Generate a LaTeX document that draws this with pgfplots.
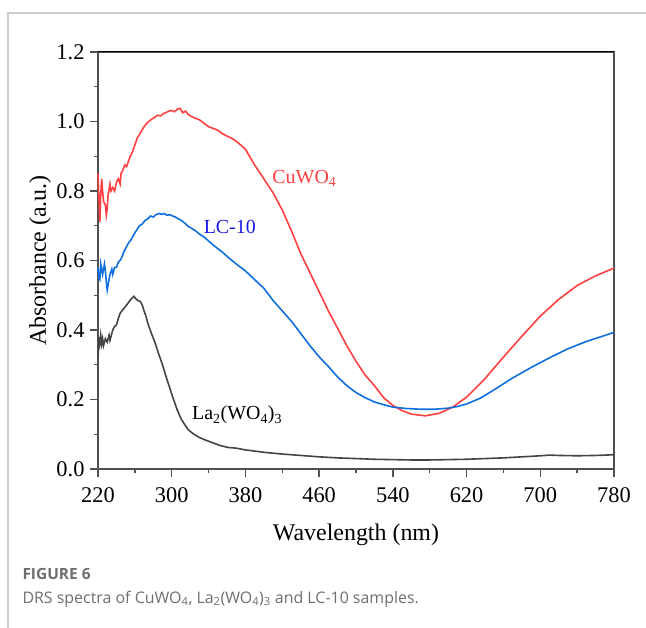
\documentclass[border=0pt]{standalone}
\usepackage{pgfplots}
\pgfplotsset{compat=1.18}
\usepackage{fontspec}
\setmainfont{Liberation Serif}
\newfontfamily\capfont{Open Sans}

\definecolor{cured}{RGB}{255,64,64}
\definecolor{lcblue}{RGB}{15,111,222}
\definecolor{lctext}{RGB}{25,25,230}
\definecolor{lagray}{RGB}{68,68,68}
\definecolor{axisgray}{RGB}{80,80,80}
\definecolor{framegray}{RGB}{205,205,205}
\definecolor{capgray}{RGB}{110,110,110}

\begin{document}
\begin{tikzpicture}
\path[use as bounding box] (0,0) rectangle (646bp,628bp);
\draw[framegray, line width=1.5bp] (8bp,0) -- (8bp,615bp) -- (646bp,615bp);

\begin{axis}[
  at={(98bp,159bp)}, anchor=south west,
  scale only axis, width=516bp, height=417bp,
  xmin=220, xmax=780, ymin=0, ymax=1.2,
  xtick={220,300,380,460,540,620,700,780},
  ytick={0,0.2,0.4,0.6,0.8,1.0,1.2},
  minor x tick num=1, minor y tick num=1,
  tick align=outside, major tick length=8bp, minor tick length=4.5bp,
  xtick pos=lower, ytick pos=left,
  xticklabel style={yshift=-7bp},
  yticklabel style={xshift=-2bp, /pgf/number format/.cd, fixed, fixed zerofill, precision=1},
  /pgf/number format/assume math mode=true,
  tick label style={font=\fontsize{22.5}{27}\selectfont},
  label style={font=\fontsize{24}{28}\selectfont},
  xlabel={Wavelength (nm)}, ylabel={Absorbance (a.u.)},
  xlabel style={at={(axis description cs:0.5,-0.158)}, anchor=center},
  ylabel style={at={(axis description cs:-0.1124,0.5)}, anchor=center},
  axis line style={line width=1.5bp, draw=axisgray},
  tick style={line width=1.3bp, draw=axisgray, color=axisgray},
  clip=false,
]
% CuWO4
\addplot[cured, line width=1.6bp] coordinates {
(220,0.85) (221,0.78) (222,0.71) (223,0.79) (224,0.835) (225,0.80) (226,0.77)
(228,0.76) (229,0.73) (230,0.75) (231,0.79) (233,0.82) (234,0.80) (236,0.81)
(238,0.80) (240,0.825) (242,0.835) (244,0.82) (245,0.85) (247,0.86) (249,0.875)
(251,0.87) (253,0.885) (255,0.9) (257,0.91) (259,0.925) (261,0.94) (263,0.955)
(265,0.962) (267,0.972) (270,0.985) (273,0.995) (276,1.002) (279,1.008) (282,1.013)
(285,1.018) (288,1.016) (291,1.023) (294,1.026) (297,1.03) (300,1.032) (303,1.028)
(306,1.035) (309,1.038) (312,1.025) (315,1.03) (318,1.02) (321,1.015) (325,1.01)
(330,1.005) (335,0.995) (340,0.985) (345,0.98) (350,0.975) (355,0.965) (360,0.958)
(365,0.952) (370,0.943) (375,0.932) (380,0.92) (390,0.875) (400,0.835) (410,0.795)
(420,0.745) (430,0.685) (440,0.62) (450,0.565) (460,0.51) (470,0.455) (480,0.405)
(490,0.355) (500,0.31) (510,0.27) (520,0.24) (530,0.205) (540,0.183) (550,0.168)
(560,0.158) (575,0.153) (590,0.16) (605,0.178) (620,0.207) (640,0.26) (660,0.322)
(680,0.382) (700,0.44) (720,0.488) (740,0.528) (760,0.556) (780,0.578)
};
% LC-10
\addplot[lcblue, line width=1.6bp] coordinates {
(220,0.58) (221,0.55) (222,0.545) (223,0.59) (224,0.575) (225,0.56) (227,0.59)
(228,0.57) (229,0.54) (230,0.515) (231,0.53) (233,0.56) (235,0.575) (236,0.56)
(238,0.58) (240,0.58) (242,0.595) (244,0.60) (246,0.61) (248,0.625) (250,0.635)
(253,0.65) (256,0.66) (259,0.675) (262,0.688) (265,0.70) (268,0.705) (271,0.715)
(274,0.72) (277,0.728) (280,0.725) (283,0.732) (286,0.735) (289,0.733) (292,0.735)
(295,0.73) (298,0.732) (301,0.728) (304,0.725) (307,0.72) (310,0.716) (314,0.708)
(318,0.698) (322,0.692) (326,0.685) (330,0.676) (335,0.668) (340,0.656) (345,0.645)
(350,0.634) (355,0.624) (360,0.612) (370,0.59) (380,0.57) (390,0.545) (400,0.52)
(410,0.485) (420,0.455) (430,0.425) (440,0.39) (450,0.355) (460,0.323) (470,0.295)
(480,0.265) (490,0.24) (500,0.22) (510,0.205) (520,0.193) (530,0.185) (540,0.178)
(555,0.174) (570,0.172) (585,0.172) (600,0.175) (610,0.18) (620,0.187) (635,0.204)
(650,0.228) (670,0.262) (690,0.292) (710,0.32) (730,0.346) (750,0.367) (765,0.38)
(780,0.393)
};
% La2(WO4)3
\addplot[lagray, line width=1.6bp] coordinates {
(220,0.32) (221,0.38) (222,0.36) (223,0.385) (224,0.36) (225,0.375) (226,0.355)
(228,0.375) (230,0.365) (232,0.385) (233,0.37) (235,0.39) (236,0.40) (238,0.41)
(240,0.415) (242,0.432) (244,0.448) (246,0.455) (249,0.465) (252,0.475) (255,0.486)
(257,0.492) (259,0.497) (261,0.49) (263,0.485) (266,0.482) (268,0.472) (270,0.455)
(272,0.44) (274,0.42) (278,0.39) (282,0.363) (286,0.33) (290,0.30) (294,0.265)
(298,0.232) (302,0.2) (306,0.17) (310,0.145) (314,0.128) (318,0.113) (323,0.102)
(329,0.092) (335,0.085) (344,0.076) (352,0.068) (361,0.062) (370,0.06) (380,0.055)
(400,0.048) (420,0.043) (440,0.039) (460,0.035) (480,0.032) (500,0.03) (520,0.028)
(540,0.027) (560,0.026) (580,0.026) (600,0.027) (620,0.028) (640,0.03) (660,0.032)
(680,0.035) (700,0.038) (710,0.040) (720,0.039) (740,0.038) (760,0.039) (780,0.041)
};
\draw[black, line width=1bp] (rel axis cs:0,1) -- (rel axis cs:1,1);
\node[cured, font=\fontsize{20}{24}\selectfont] at (axis cs:444,0.837) {CuWO\textsubscript{4}};
\node[lctext, font=\fontsize{20}{24}\selectfont] at (axis cs:363,0.696) {LC-10};
\node[black, font=\fontsize{20}{24}\selectfont] at (axis cs:371,0.155) {La\textsubscript{2}(WO\textsubscript{4})\textsubscript{3}};
\end{axis}

\node[anchor=west, capgray, font=\capfont\bfseries\fontsize{15.5}{18}\selectfont] at (19bp,54bp) {FIGURE 6};
\node[anchor=west, capgray, font=\capfont\fontsize{16}{19}\selectfont] at (19bp,29bp) {DRS spectra of CuWO\textsubscript{4}, La\textsubscript{2}(WO\textsubscript{4})\textsubscript{3} and LC-10 samples.};
\end{tikzpicture}
\end{document}
